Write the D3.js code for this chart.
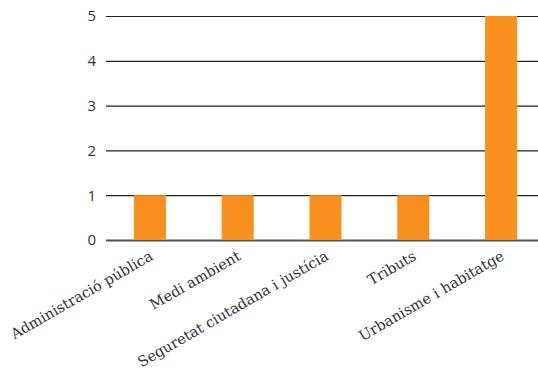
<!DOCTYPE html>
<html>
<head>
<meta charset="utf-8">
<script src="https://cdn.jsdelivr.net/npm/d3@7"></script>
<style>
  html, body { margin: 0; padding: 0; background: #fff; }
  svg { display: block; }
</style>
</head>
<body>
<div id="chart"></div>
<script>
const categories = ["Administració pública", "Medi ambient", "Seguretat ciutadana i justícia", "Tributs", "Urbanisme i habitatge"];
const values = [1, 1, 1, 1, 5];
const yTicks = [0, 1, 2, 3, 4, 5];

const W = 538, H = 370;
const svg = d3.select("#chart").append("svg").attr("width", W).attr("height", H);

const x = d3.scaleBand().domain(categories).range([106, 545]).paddingInner(0.635).paddingOuter(0.3175);
const y = d3.scaleLinear().domain([0, 5]).range([240, 16]);

// horizontal grid lines with tick labels
const yAxis = svg.append("g").attr("transform", "translate(106,0)")
  .call(d3.axisLeft(y).tickValues(yTicks).tickSize(-(W - 106)).tickPadding(10).tickFormat(d3.format("d")));
yAxis.select(".domain").remove();
yAxis.selectAll(".tick line").attr("stroke", "#222").attr("stroke-width", 1.2);
yAxis.selectAll(".tick text").attr("font-family", "'Open Sans', sans-serif").attr("font-size", 15).attr("fill", "#333");
yAxis.selectAll(".tick").filter(d => d === 0).select("line").attr("stroke", "#555").attr("stroke-width", 2);

// bars
svg.append("g").selectAll("rect").data(categories).join("rect")
  .attr("x", d => x(d))
  .attr("width", x.bandwidth())
  .attr("y", (d, i) => y(values[i]))
  .attr("height", (d, i) => y(0) - y(values[i]))
  .attr("fill", "#f7901e");

// rotated category labels
svg.append("g").selectAll("text").data(categories).join("text")
  .attr("transform", d => `translate(${x(d) + x.bandwidth() / 2 + 4},${259}) rotate(-30)`)
  .attr("text-anchor", "end")
  .attr("font-family", "'DejaVu Serif', serif")
  .attr("font-size", 14.5)
  .attr("fill", "#333")
  .text(d => d);
</script>
</body>
</html>
